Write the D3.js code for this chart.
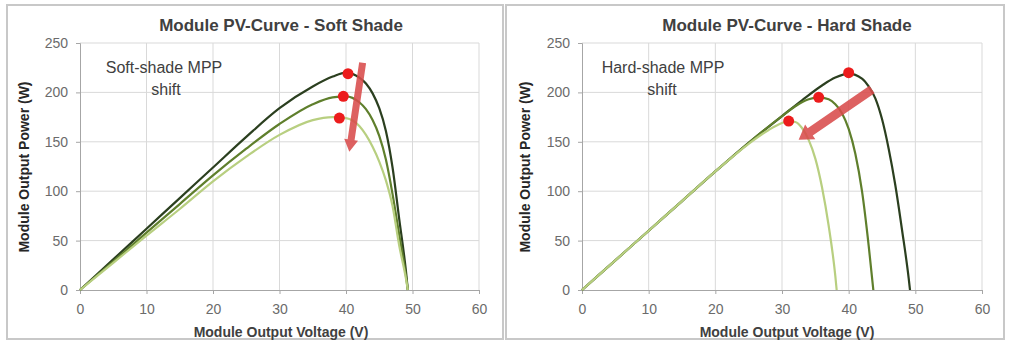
<!DOCTYPE html>
<html>
<head>
<meta charset="utf-8">
<script src="https://cdn.jsdelivr.net/npm/d3@7"></script>
<style>
  body { margin: 0; background: #fff; }
  svg { display: block; font-family: "Liberation Sans", Arial, sans-serif; }
</style>
</head>
<body>
<svg width="1009" height="354"></svg>
<script>
// Axis ticks
const voltTicks = [0, 10, 20, 30, 40, 50, 60];
const powerTicks = [0, 50, 100, 150, 200, 250];

// Soft shade curves (V, W)
const softFullV  = [0, 5, 10, 15, 20, 25, 30, 35, 38, 40, 42, 43, 44, 45, 46, 47, 48, 49, 49.3];
const softFullP  = [0, 31, 62, 93, 124, 155, 184, 206, 216, 220, 215, 209, 199, 184, 161, 124, 72, 20, 0];
const softMidV   = [0, 5, 10, 15, 20, 25, 30, 35, 38, 40, 42, 43, 44, 45, 46, 47, 48, 49, 49.3];
const softMidP   = [0, 29, 58, 87, 116, 143, 168, 188, 195, 196, 190, 183, 172, 156, 132, 97, 56, 15, 0];
const softLowV   = [0, 5, 10, 15, 20, 25, 30, 35, 38, 40, 42, 43, 44, 45, 46, 47, 48, 49, 49.3];
const softLowP   = [0, 27.5, 55, 82, 110, 135, 157, 172, 175, 174, 166, 157, 145, 130, 111, 85, 45, 12, 0];

// Hard shade curves (V, W)
const hardFullV  = [0, 5, 10, 15, 20, 25, 30, 33, 36, 38, 40, 42, 43, 44, 45, 46, 47, 48, 49, 49.2];
const hardFullP  = [0, 30, 60, 90, 120, 149, 176, 192, 207, 215, 219, 214, 206, 194, 173, 143, 106, 61, 12, 0];
const hardMidV   = [0, 5, 10, 15, 20, 25, 30, 32, 34, 35.5, 37, 38, 39, 40, 41, 42, 43, 43.7];
const hardMidP   = [0, 30, 60, 90, 120, 149, 176, 186, 193, 195, 193, 188, 179, 163, 138, 100, 45, 0];
const hardLowV   = [0, 5, 10, 15, 20, 25, 28, 30, 31, 32, 33, 34, 35, 36, 37, 38, 38.2];
const hardLowP   = [0, 30, 60, 90, 120, 148, 162, 169, 171, 170, 164, 152, 133, 104, 65, 14, 0];

// Maximum power points
const softMppV = [40.3, 39.6, 39];
const softMppP = [219, 196, 174];
const hardMppV = [40, 35.5, 31];
const hardMppP = [220, 195, 171];

// Arrow (tail -> tip) in data units
const softArrowV = [42.5, 40.5];
const softArrowP = [230, 140];
const hardArrowV = [43.5, 32.5];
const hardArrowP = [203, 152];

// colours: full sun, medium shade, heavy shade
const curveColors = ["#2b3f1f", "#5f7f2c", "#b8cf80"];

const svg = d3.select("svg");
svg.append("rect").attr("width", 1009).attr("height", 354).attr("fill", "#fff");

function zip(vs, ps) { return vs.map((v, i) => [v, ps[i]]); }

function drawPanel(opt) {
  const g = svg.append("g");

  // frame
  g.append("rect")
    .attr("x", opt.frame[0]).attr("y", opt.frame[1])
    .attr("width", opt.frame[2]).attr("height", opt.frame[3])
    .attr("fill", "none").attr("stroke", "#c8c8c8").attr("stroke-width", 2);

  const x = d3.scaleLinear().domain([0, 60]).range([opt.left, opt.right]);
  const y = d3.scaleLinear().domain([0, 250]).range([290, 43]);

  // gridlines
  g.append("g").selectAll("line").data(voltTicks.slice(1)).join("line")
    .attr("x1", d => x(d)).attr("x2", d => x(d))
    .attr("y1", y(0)).attr("y2", y(250))
    .attr("stroke", "#d9d9d9");
  g.append("g").selectAll("line").data(powerTicks.slice(1)).join("line")
    .attr("x1", x(0)).attr("x2", x(60))
    .attr("y1", d => y(d)).attr("y2", d => y(d))
    .attr("stroke", "#d9d9d9");

  // axes
  const xAxis = g.append("g").attr("transform", `translate(0,${y(0)})`)
    .call(d3.axisBottom(x).tickValues(voltTicks).tickSize(4).tickPadding(10));
  const yAxis = g.append("g").attr("transform", `translate(${x(0)},0)`)
    .call(d3.axisLeft(y).tickValues(powerTicks).tickSize(4).tickPadding(8));
  [xAxis, yAxis].forEach(a => {
    a.select(".domain").attr("stroke", "#a6a6a6");
    a.selectAll(".tick line").attr("stroke", "#a6a6a6");
    a.selectAll(".tick text").attr("fill", "#6b6b6b")
      .style("font-size", "14px").style("font-family", "Liberation Sans, Arial, sans-serif");
  });

  // curves (heavy shade drawn last, on top)
  const line = d3.line().x(d => x(d[0])).y(d => y(d[1])).curve(d3.curveMonotoneX);
  [0, 1, 2].forEach(i => {
    g.append("path").attr("d", line(opt.curves[i]))
      .attr("fill", "none")
      .attr("stroke", curveColors[i])
      .attr("stroke-width", 2.2);
  });

  // MPP dots
  g.append("g").selectAll("circle").data(opt.mpp).join("circle")
    .attr("cx", d => x(d[0])).attr("cy", d => y(d[1]))
    .attr("r", 5.5).attr("fill", "#ec1c1c");

  // arrow
  const [t0, t1] = opt.arrow;
  const ax = x(t0[0]), ay = y(t0[1]), bx = x(t1[0]), by = y(t1[1]);
  const len = Math.hypot(bx - ax, by - ay);
  const ux = (bx - ax) / len, uy = (by - ay) / len;
  const px = -uy, py = ux;
  const sw = opt.shaft / 2, hw = opt.head / 2, hl = opt.headLen;
  const hx = bx - ux * hl, hy = by - uy * hl;
  const pts = [
    [ax + px * sw, ay + py * sw], [hx + px * sw, hy + py * sw], [hx + px * hw, hy + py * hw],
    [bx, by],
    [hx - px * hw, hy - py * hw], [hx - px * sw, hy - py * sw], [ax - px * sw, ay - py * sw]
  ];
  g.append("polygon").attr("points", pts.map(p => p.join(",")).join(" "))
    .attr("fill", "#d84b4b").attr("opacity", 0.88);

  // title
  g.append("text").attr("x", opt.titleX).attr("y", 31)
    .attr("text-anchor", "middle").attr("font-weight", "bold")
    .attr("font-size", 17).attr("fill", "#404040").text(opt.title);

  // axis titles
  g.append("text").attr("x", opt.titleX).attr("y", 337)
    .attr("text-anchor", "middle").attr("font-weight", "bold")
    .attr("font-size", 14).attr("fill", "#404040").text("Module Output Voltage (V)");
  g.append("text")
    .attr("transform", `translate(${opt.yTitleX},167) rotate(-90)`)
    .attr("text-anchor", "middle").attr("font-weight", "bold")
    .attr("font-size", 14).attr("fill", "#262626").text("Module Output Power (W)");

  // annotation
  g.append("text").attr("x", opt.noteX).attr("y", 73)
    .attr("text-anchor", "middle").attr("font-size", 16).attr("fill", "#404040").text(opt.note);
  g.append("text").attr("x", opt.noteX2).attr("y", 95)
    .attr("text-anchor", "middle").attr("font-size", 16).attr("fill", "#404040").text("shift");
}

drawPanel({
  frame: [7, 5, 496, 334],
  left: 80, right: 479,
  title: "Module PV-Curve - Soft Shade", titleX: 281, yTitleX: 29,
  curves: [zip(softFullV, softFullP), zip(softMidV, softMidP), zip(softLowV, softLowP)],
  mpp: zip(softMppV, softMppP),
  arrow: zip(softArrowV, softArrowP),
  shaft: 7, head: 14, headLen: 12,
  note: "Soft-shade MPP", noteX: 164, noteX2: 166
});

drawPanel({
  frame: [506, 5, 498, 334],
  left: 582, right: 982,
  title: "Module PV-Curve - Hard Shade", titleX: 787, yTitleX: 530,
  curves: [zip(hardFullV, hardFullP), zip(hardMidV, hardMidP), zip(hardLowV, hardLowP)],
  mpp: zip(hardMppV, hardMppP),
  arrow: zip(hardArrowV, hardArrowP),
  shaft: 9, head: 18, headLen: 14,
  note: "Hard-shade MPP", noteX: 663, noteX2: 662
});
</script>
</body>
</html>
